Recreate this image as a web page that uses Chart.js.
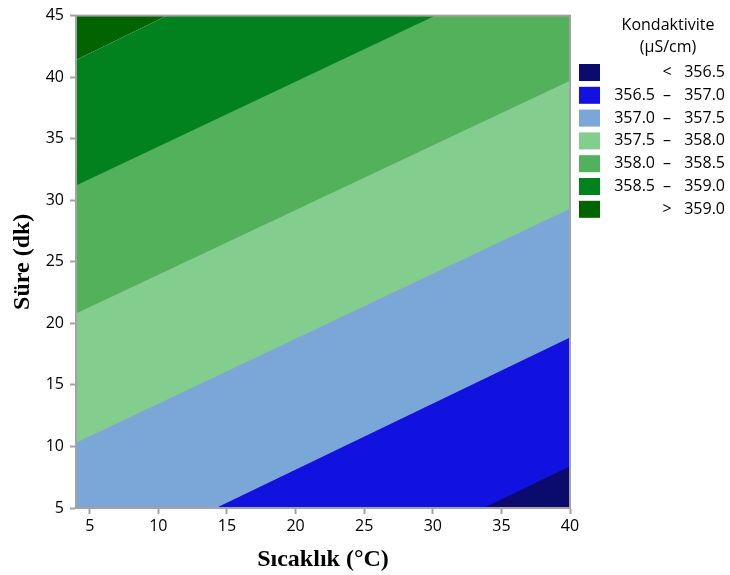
<!DOCTYPE html>
<html>
<head>
<meta charset="utf-8">
<script src="https://cdn.jsdelivr.net/npm/chart.js@4/dist/chart.umd.min.js"></script>
<style>
  html, body { margin: 0; padding: 0; background: #fff; }
  #wrap { width: 730px; height: 575px; position: relative; }
</style>
</head>
<body>
<div id="wrap"><canvas id="contour"></canvas></div>
<script>
// contour levels (µS/cm) and the band colours, lowest band first
const levels = [356.5, 357.0, 357.5, 358.0, 358.5, 359.0];
const bandColors = ['#0b0b6e', '#1212e0', '#7ba6d8', '#83ce8f', '#53b05b', '#02821f', '#016400'];

// each contour line, as the points where it meets the plot edges
const contourX = [
  [33.7, 40],
  [14.2, 40],
  [4, 40],
  [4, 40],
  [4, 30.2, 40],
  [4, 10.65, 40]
];
const contourY = [
  [5, 8.4],
  [5, 18.85],
  [10.3, 29.3],
  [20.8, 39.7],
  [31.2, 45, 45],
  [41.4, 45, 45]
];

const xTicks = [5, 10, 15, 20, 25, 30, 35, 40];
const yTicks = [5, 10, 15, 20, 25, 30, 35, 40, 45];
const legendTitle = ['Kondaktivite', '(µS/cm)'];

const points = i => contourX[i].map((x, j) => ({ x: x, y: contourY[i][j] }));

const datasets = [];
// region above the top contour
datasets.push({
  data: points(levels.length - 1),
  fill: 'end',
  backgroundColor: bandColors[levels.length],
  order: levels.length + 1
});
// every contour fills downward with the band just below it;
// lower contours are painted later, on top
levels.forEach((lv, i) => {
  datasets.push({
    data: points(i),
    fill: 'start',
    backgroundColor: bandColors[i],
    order: i + 1
  });
});
datasets.forEach(d => {
  d.borderWidth = 0;
  d.pointRadius = 0;
  d.tension = 0;
});

const frame = {
  id: 'frame',
  afterDatasetsDraw(chart) {
    const { ctx, chartArea: a } = chart;
    ctx.save();
    ctx.strokeStyle = '#a3a3a3';
    ctx.lineWidth = 2;
    ctx.strokeRect(a.left, a.top, a.right - a.left, a.bottom - a.top);
    ctx.restore();
  }
};

const bandLegend = {
  id: 'bandLegend',
  afterDraw(chart) {
    const ctx = chart.ctx;
    ctx.save();
    ctx.fillStyle = '#000';
    ctx.textBaseline = 'middle';
    ctx.textAlign = 'center';
    ctx.font = '16px "Open Sans"';
    ctx.fillText(legendTitle[0], 668, 25);
    ctx.fillText(legendTitle[1], 668, 47);

    bandColors.forEach((c, i) => {
      const top = 64 + i * 22.8;
      const mid = top + 8.5;
      ctx.fillStyle = c;
      ctx.fillRect(579, top, 21, 17);
      ctx.fillStyle = '#000';
      if (i === 0 || i === bandColors.length - 1) {
        const v = i === 0 ? levels[0] : levels[levels.length - 1];
        ctx.textAlign = 'center';
        ctx.fillText(i === 0 ? '<' : '>', 667, mid);
        ctx.textAlign = 'right';
        ctx.fillText(v.toFixed(1), 725, mid);
      } else {
        ctx.textAlign = 'right';
        ctx.fillText(levels[i - 1].toFixed(1), 655, mid);
        ctx.textAlign = 'center';
        ctx.fillText('–', 667, mid);
        ctx.textAlign = 'right';
        ctx.fillText(levels[i].toFixed(1), 725, mid);
      }
    });
    ctx.restore();
  }
};

const tickFont = { family: '"Open Sans"', size: 16 };
const titleFont = { family: '"Liberation Serif", "Times New Roman", serif', size: 24, weight: 'bold' };

new Chart(document.getElementById('contour'), {
  type: 'line',
  data: { datasets: datasets },
  options: {
    responsive: true,
    maintainAspectRatio: false,
    animation: false,
    layout: { padding: { top: 13, right: 160, left: 0, bottom: 0 } },
    plugins: {
      legend: { display: false },
      tooltip: { enabled: false }
    },
    scales: {
      x: {
        type: 'linear',
        min: 4,
        max: 40,
        afterBuildTicks: s => { s.ticks = xTicks.map(v => ({ value: v })); },
        afterFit: s => { s.height = 67; },
        ticks: { font: tickFont, color: '#000', padding: 3, maxRotation: 0 },
        grid: { drawOnChartArea: false, tickLength: 6, color: '#a3a3a3', tickWidth: 2 },
        border: { color: '#a3a3a3', width: 2 },
        title: { display: true, text: 'Sıcaklık (°C)', font: titleFont, color: '#000', padding: { top: 0, bottom: 1 } }
      },
      y: {
        type: 'linear',
        min: 5,
        max: 45,
        afterBuildTicks: s => { s.ticks = yTicks.map(v => ({ value: v })); },
        afterFit: s => { s.width = 76; },
        ticks: { font: tickFont, color: '#000', padding: 6 },
        grid: { drawOnChartArea: false, tickLength: 6, color: '#a3a3a3', tickWidth: 2 },
        border: { color: '#a3a3a3', width: 2 },
        title: { display: true, text: 'Süre (dk)', font: titleFont, color: '#000', padding: { top: 8, bottom: 0 } }
      }
    }
  },
  plugins: [frame, bandLegend]
});
</script>
</body>
</html>
